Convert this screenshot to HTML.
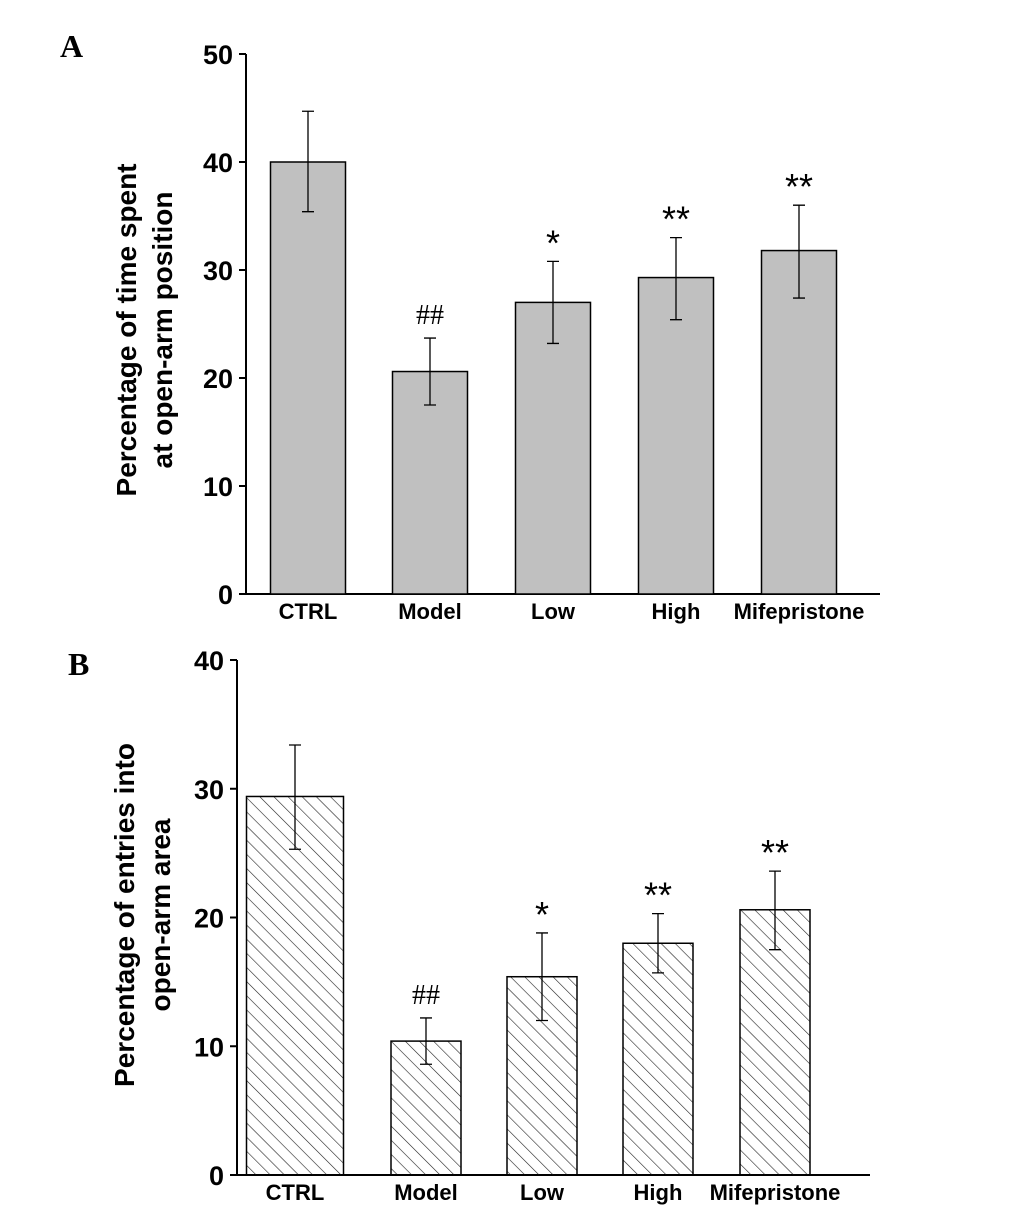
<!DOCTYPE html>
<html><head><meta charset="utf-8"><style>
body{margin:0;background:#fff;}
svg{display:block;font-family:"Liberation Sans",Arial,sans-serif;}
</style></head><body>
<svg id="chart" width="1034" height="1212">
<defs>
<pattern id="hatch" patternUnits="userSpaceOnUse" width="10" height="10" patternTransform="rotate(-45)">
<line x1="0" y1="0" x2="0" y2="10" stroke="#222" stroke-width="1.2"/>
</pattern>
</defs>
</svg>
<script>
const categories=["CTRL","Model","Low","High","Mifepristone"];
const valuesA=[40.0,20.6,27.0,29.3,31.8];
const errLoA=[35.4,17.5,23.2,25.4,27.4];
const errHiA=[44.7,23.7,30.8,33.0,36.0];
const sigA=["","##","*","**","**"];
const ticksA=[0,10,20,30,40,50];
const valuesB=[29.4,10.4,15.4,18.0,20.6];
const errLoB=[25.3,8.6,12.0,15.7,17.5];
const errHiB=[33.4,12.2,18.8,20.3,23.6];
const sigB=["","##","*","**","**"];
const ticksB=[0,10,20,30,40];

const svg=document.getElementById('chart');
const NS='http://www.w3.org/2000/svg';
function mk(tag,attrs,parent,text){const e=document.createElementNS(NS,tag);for(const k in attrs)e.setAttribute(k,attrs[k]);if(text!==undefined)e.textContent=text;(parent||svg).appendChild(e);return e;}

function panel(cfg){
  const g=mk('g',{});
  
  
  const y=v=>cfg.y0-(v/cfg.max)*(cfg.y0-cfg.yTop);
  const ax=mk('line',{x1:cfg.ax,y1:cfg.yTop,x2:cfg.ax,y2:cfg.y0,stroke:'#000','stroke-width':2},g);
  
  const xa=mk('line',{x1:cfg.ax,y1:cfg.y0,x2:cfg.xEnd,y2:cfg.y0,stroke:'#000','stroke-width':2},g);
  
  cfg.ticks.forEach(t=>{
    mk('line',{x1:cfg.ax-7,y1:y(t),x2:cfg.ax,y2:y(t),stroke:'#000','stroke-width':2},g);
    const tl=mk('text',{x:cfg.ax-13,y:y(t)+10,'text-anchor':'end','font-size':27,'font-weight':'bold'},g,t);
    
  });
  categories.forEach((c,i)=>{
    const cx=cfg.centers[i], bw=(i===0?cfg.bw0:cfg.bw), x=cx-bw/2, v=cfg.vals[i];
    const b=mk('rect',{x:x,y:y(v),width:bw,height:cfg.y0-y(v),fill:cfg.fill,stroke:'#000','stroke-width':1.5},g);
    
    const e=mk('path',{d:`M${cx},${y(cfg.hi[i])}V${y(cfg.lo[i])}M${cx-6},${y(cfg.hi[i])}H${cx+6}M${cx-6},${y(cfg.lo[i])}H${cx+6}`,stroke:'#000','stroke-width':1.3,fill:'none'},g);
    
    if(cfg.sig[i]){
      const isH=cfg.sig[i]==='##';
      const s=mk('text',{x:cx,y:y(cfg.hi[i])-(isH?14:6),'text-anchor':'middle','font-size':isH?28:36,'font-family':isH?'Liberation Serif,serif':'inherit'},g,cfg.sig[i]);
      
    }
    const l=mk('text',{x:cx,y:cfg.y0+25,'text-anchor':'middle','font-size':22,'font-weight':'bold'},g,c);
    
  });
  const tt=mk('g',{transform:`translate(${cfg.titleX},${cfg.titleY}) rotate(-90)`},g);
  cfg.title.forEach((line,k)=>{
    const t=mk('text',{x:0,y:k*36,'text-anchor':'middle','font-size':28,'font-weight':'bold'},tt,line);
    
  });
  const pl=mk('text',{x:cfg.lx,y:cfg.ly,'font-size':32,'font-weight':'bold','font-family':'Liberation Serif,serif'},g,cfg.letter);
  
}
panel({name:'panel-a',ax:246,y0:594,yTop:54,max:50,xEnd:880,ticks:ticksA,centers:[308,430,553,676,799],bw:75,bw0:75,vals:valuesA,lo:errLoA,hi:errHiA,sig:sigA,fill:'#c0c0c0',title:['Percentage of time spent','at open-arm position'],titleX:136,titleY:330,letter:'A',lx:60,ly:57});
panel({name:'panel-b',ax:237,y0:1175,yTop:660,max:40,xEnd:870,ticks:ticksB,centers:[295,426,542,658,775],bw:70,bw0:97,vals:valuesB,lo:errLoB,hi:errHiB,sig:sigB,fill:'url(#hatch)',title:['Percentage of entries into','open-arm area'],titleX:134,titleY:915,letter:'B',lx:68,ly:675});
</script>
</body></html>
